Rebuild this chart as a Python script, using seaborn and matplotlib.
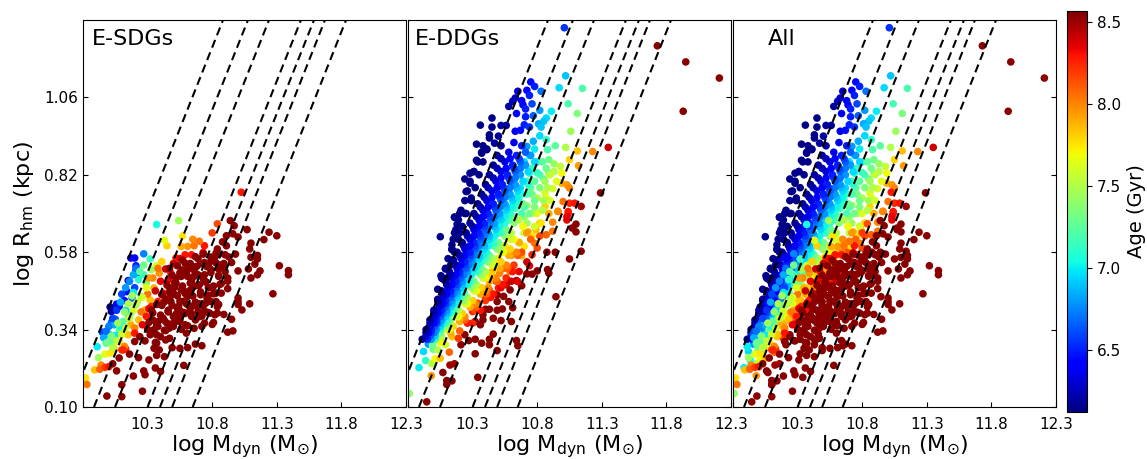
# Size-mass panels for E-SDGs, E-DDGs and all galaxies, coloured by age
import numpy as np
import pandas as pd
import matplotlib
matplotlib.use("Agg")
import matplotlib.pyplot as plt
import seaborn as sns

# age lines: mass where each dashed line crosses the bottom and the top of the panel
line_rhm = [0.10, 1.30]
line_mass_low = [9.694, 9.885, 10.048, 10.30, 10.396, 10.49, 10.649]
line_mass_high = [10.884, 11.077, 11.24, 11.487, 11.588, 11.673, 11.836]

age_min = 6.124
age_max = 8.57

x_ticks = [9.8, 10.3, 10.8, 11.3, 11.8, 12.3]
x_labels = ["", "10.3", "10.8", "11.3", "11.8", "12.3"]
y_ticks = [0.10, 0.34, 0.58, 0.82, 1.06]
y_labels = ["0.10", "0.34", "0.58", "0.82", "1.06"]
cbar_ticks = [6.5, 7.0, 7.5, 8.0, 8.5]
names = ["E-SDGs", "E-DDGs", "All"]

# E-SDGs, oldest galaxies (age 8.55)
sdg_old_mass = [9.985,10.10,10.26,10.10,10.19,10.06,10.27,10.28,10.36,10.40,10.58,10.31,10.23,10.08,10.16,10.03,10.37,10.43,
    10.35,10.39,10.49,10.55,10.61,10.67,10.72,10.20,10.24,10.28,10.32,10.37,10.37,10.44,10.47,10.30,10.38,10.44,10.50,10.56,
    10.60,10.66,10.72,10.81,10.80,10.92,10.96,10.95,10.89,10.84,10.78,10.74,11.03,11.09,11.00,11.00,11.00,11.27,10.92,10.87,
    10.81,10.83,10.84,11.10,11.15,11.17,11.08,11.00,11.32,11.39,11.39,11.15,11.15,11.13,11.10,11.09,11.10,11.20,11.24,11.30,
    11.07,11.00,10.96,10.91,10.97,10.94,10.98,10.95,10.90,10.83,10.82,10.92,10.92,10.90,10.85,10.79,10.74,10.75,10.70,10.66,
    10.60,10.68,10.61,10.56,10.52,10.56,10.61,10.66,10.71,10.75,10.69,10.64,10.59,10.53,10.48,10.50,10.46,10.42,10.38,10.34,
    10.55,10.59,10.47,10.51,10.58,10.63,10.70,10.76,10.44,10.48,10.54,10.58,10.63,10.67,10.72,10.77,10.41,10.46,10.52,10.56,
    10.64,10.69,10.74,10.79,10.84,10.88,10.86,10.91,10.35,10.40,10.45,10.50,10.55,10.60,10.66,10.36,10.33,10.43,10.47,10.52,
    10.57,10.63,10.69,10.76,10.80,10.85,10.89,10.93,10.86,10.80,10.73,10.66,10.62,10.57,10.52,10.47,
    10.31,10.37,10.43,10.49,10.55,10.61,10.67,10.74,10.34,10.40,10.46,10.52,10.58,10.64,10.70,10.76,10.82,
    10.37,10.43,10.49,10.55,10.61,10.67,10.73,10.79,10.85,10.41,10.47,10.53,10.59,10.65,10.71,10.77,10.83,
    10.45,10.51,10.57,10.63,10.69,10.75,10.81,10.87,10.49,10.55,10.61,10.67,10.73,10.79,10.85,
    10.53,10.59,10.65,10.71,10.77,10.83,10.89,10.67,10.73,10.79,10.85]
sdg_old_rhm = [0.134,0.132,0.149,0.169,0.196,0.212,0.212,0.200,0.221,0.210,0.229,0.246,0.253,0.252,0.264,0.234,0.260,0.256,
    0.282,0.277,0.284,0.282,0.284,0.295,0.290,0.303,0.318,0.305,0.324,0.298,0.324,0.308,0.313,0.341,0.350,0.337,0.350,0.341,
    0.329,0.344,0.350,0.362,0.356,0.332,0.336,0.372,0.387,0.391,0.391,0.396,0.401,0.420,0.427,0.418,0.438,0.451,0.467,0.453,
    0.451,0.427,0.411,0.500,0.510,0.522,0.528,0.522,0.538,0.523,0.510,0.570,0.559,0.543,0.564,0.590,0.608,0.619,0.642,0.631,
    0.650,0.627,0.637,0.631,0.662,0.678,0.574,0.548,0.572,0.577,0.565,0.500,0.490,0.520,0.505,0.526,0.510,0.489,0.479,0.505,
    0.515,0.536,0.526,0.505,0.484,0.463,0.443,0.474,0.448,0.422,0.396,0.381,0.390,0.406,0.427,0.453,0.396,0.375,0.365,0.370,
    0.375,0.355,0.470,0.472,0.460,0.462,0.420,0.438,0.435,0.445,0.412,0.428,0.405,0.415,0.382,0.470,0.415,0.400,0.388,0.395,
    0.490,0.510,0.548,0.552,0.590,0.612,0.540,0.600,0.340,0.318,0.360,0.380,0.398,0.420,0.415,0.300,0.400,0.338,0.345,0.366,
    0.525,0.545,0.560,0.535,0.560,0.528,0.545,0.565,0.480,0.470,0.498,0.525,0.540,0.555,0.500,0.530,
    0.362,0.355,0.368,0.358,0.365,0.352,0.370,0.360,0.392,0.385,0.395,0.384,0.393,0.388,0.380,0.394,0.386,
    0.418,0.426,0.415,0.428,0.418,0.425,0.413,0.427,0.418,0.448,0.456,0.445,0.452,0.444,0.457,0.446,0.453,
    0.478,0.486,0.475,0.484,0.477,0.487,0.475,0.483,0.508,0.516,0.505,0.514,0.506,0.517,0.508,
    0.538,0.546,0.535,0.544,0.537,0.547,0.536,0.566,0.574,0.565,0.573]

# E-SDGs, younger galaxies
sdg_mass = [11.025,10.84,10.80,10.74,10.65,10.70,10.61,10.66,10.56,10.57,10.45,10.43,10.54,10.37,10.27,10.32,10.17,10.20,10.21,
    10.21,10.23,10.15,10.14,10.20,10.18,10.12,10.08,10.06,10.01,10.02,10.14,10.02,10.05,10.04,9.95,10.00,9.96,9.91,9.92,9.89,
    9.82,9.83,9.94,9.93,9.97,10.00,10.10,10.13,
    9.98,10.01,10.03,10.08,10.11,10.15,10.17,10.21,10.25,10.29,10.33,10.37,10.05,10.09,10.13,10.19,10.23,10.27,
    9.97,10.01,10.04,10.08,10.15,10.17,10.23,10.28,10.32,10.35,10.39,10.41,10.12,10.20,10.25,10.30,10.34,10.38,
    10.11,10.20,10.29,10.33,10.38,10.42,10.46,10.48,10.52,10.59,10.64,10.73,10.26,10.31,10.36,10.40,10.44,10.50,10.55,
    10.16,10.19,10.21,10.10,10.13,10.06,10.09,10.03,10.00,9.98,10.27,10.24,10.18,10.15,10.12,10.07,10.02,9.99,
    10.31,10.29,10.26,10.22,10.19,10.16,10.13,10.10,10.06,10.03]
sdg_rhm = [0.766,0.668,0.640,0.600,0.620,0.614,0.598,0.600,0.598,0.630,0.600,0.617,0.678,0.666,0.575,0.559,0.562,0.562,0.538,
    0.524,0.505,0.492,0.458,0.470,0.438,0.430,0.412,0.419,0.410,0.396,0.393,0.362,0.372,0.355,0.332,0.326,0.315,0.287,0.253,0.215,
    0.190,0.170,0.230,0.217,0.223,0.225,0.277,0.280,
    0.298,0.303,0.308,0.339,0.365,0.375,0.391,0.417,0.443,0.484,0.526,0.538,0.322,0.350,0.400,0.455,0.495,0.510,
    0.264,0.267,0.282,0.303,0.324,0.355,0.370,0.401,0.432,0.469,0.515,0.551,0.288,0.345,0.395,0.450,0.500,0.530,
    0.277,0.329,0.381,0.412,0.427,0.453,0.495,0.515,0.562,0.572,0.572,0.579,0.355,0.405,0.460,0.490,0.528,0.545,0.560,
    0.490,0.510,0.530,0.450,0.470,0.400,0.425,0.375,0.350,0.335,0.540,0.520,0.445,0.420,0.395,0.360,0.320,0.300,
    0.500,0.470,0.440,0.425,0.400,0.375,0.345,0.325,0.305,0.285]
sdg_age = [8.30,8.15,8.20,8.30,8.00,8.05,7.95,8.05,7.90,7.75,7.80,7.65,7.45,7.05,6.75,7.15,6.30,6.40,6.50,
    6.55,6.70,6.25,6.40,6.60,6.70,6.45,6.45,6.40,6.20,6.20,6.85,6.65,6.65,6.85,6.60,6.95,6.85,7.00,7.45,7.85,
    7.75,8.05,8.00,8.10,8.20,8.30,8.20,8.25,
    7.20,7.25,7.15,7.30,7.25,7.30,7.35,7.40,7.30,7.35,7.45,7.60,7.00,7.05,6.95,7.00,7.10,7.15,
    7.65,7.75,7.80,7.75,7.85,7.90,7.85,7.90,7.85,7.90,7.95,7.80,8.00,8.00,8.05,8.05,8.00,8.05,
    8.25,8.30,8.30,8.25,8.30,8.35,8.35,8.30,8.25,8.30,8.30,8.35,8.35,8.35,8.40,8.35,8.40,8.40,8.35,
    6.75,6.85,6.70,6.60,6.80,6.55,6.85,6.60,6.75,6.70,7.30,7.25,7.45,7.50,7.40,7.45,7.35,7.30,
    7.95,7.65,7.60,7.55,7.60,7.55,7.55,7.60,7.55,7.50]

# E-DDGs, scattered galaxies read one at a time
ddg_mass = [11.73,11.95,12.21,11.93,11.01,11.02,10.97,11.15,11.04,11.11,11.06,11.02,11.11,11.23,11.35,11.05,11.12,11.29,
    10.75,10.78,10.72,10.65,10.83,10.74,10.63,10.61,10.68,10.69,10.76,10.58,10.71,10.64,10.82,10.91,10.77,10.71,10.87,10.85,
    10.45,10.36,10.45,10.52,10.56,10.70,10.74,10.81,10.83,10.63,10.67,
    10.33,10.38,10.47,10.33,10.28,10.31,10.24,10.28,10.25,10.29,10.16,10.20,10.24,10.43,10.43,10.50,10.37,10.41,
    10.05,10.16,10.18,10.16,10.20,10.14,10.14,10.15,10.09,10.055,10.07,10.03,10.10,10.03,10.11,10.09,10.05,
    9.944,9.99,9.995,10.03,9.957,9.92,9.98,9.936,9.885,9.983,10.01,10.05,9.995,10.03,10.09,10.05,10.14,10.12,9.98,9.81,
    9.945,10.07,10.10,10.14,10.10,10.125,10.16,10.34,10.32,10.21,10.24,10.27,10.32,10.37,10.43,10.43,10.46,10.49,10.64,10.65,
    10.52,10.60,10.46,10.36,10.32,10.38,10.38,10.40,10.43,10.49,10.53,10.61,10.49,10.58,10.49,10.54,10.59,10.68,10.64,10.945,
    10.88,10.89,10.80,10.76,10.72,11.05,11.14,10.875,10.94,11.10,11.07,11.10,
    10.20,10.20,10.19,10.34,10.30,10.32,10.36,10.40,10.43,10.50,10.56,10.65,10.47,10.51,10.59,10.68,10.70,10.74,10.78,10.80,
    10.76,10.73,10.79,10.82,10.92,10.92,10.87,10.96,11.04,11.03,
    11.00,10.96,11.05,11.09,11.14,11.04,11.03,10.99,11.03,11.05,10.99,10.98,10.93,10.89,10.88,10.94,10.87,10.82,10.77,10.72,
    10.93,10.89,10.85,10.82,10.80,10.74,10.78,10.72,10.67,10.92,10.86,10.87,10.76,10.80,10.72,10.86,10.89,10.80,10.76,10.70,10.63]
ddg_rhm = [1.22,1.17,1.12,1.017,1.276,1.127,1.09,1.088,1.04,1.01,0.955,0.905,0.894,0.892,0.905,0.867,0.848,0.764,
    1.108,1.094,1.082,1.079,1.079,1.066,1.058,1.048,1.05,1.037,1.04,1.032,1.024,1.01,1.02,1.017,1.003,1.0,0.996,0.986,
    0.996,0.974,0.968,0.973,0.973,0.975,0.968,0.978,0.968,0.955,0.958,
    0.915,0.91,0.918,0.865,0.825,0.83,0.807,0.794,0.768,0.748,0.689,0.70,0.70,0.944,0.934,0.94,0.887,0.898,
    0.628,0.688,0.667,0.64,0.64,0.603,0.588,0.557,0.528,0.507,0.497,0.465,0.48,0.434,0.453,0.432,0.41,
    0.331,0.363,0.327,0.347,0.295,0.272,0.30,0.244,0.222,0.234,0.249,0.251,0.279,0.277,0.293,0.306,0.318,0.27,0.197,0.142,
    0.116,0.207,0.182,0.181,0.17,0.23,0.234,0.192,0.265,0.293,0.324,0.306,0.31,0.298,0.293,0.31,0.326,0.275,0.306,0.29,
    0.368,0.365,0.375,0.355,0.365,0.37,0.386,0.403,0.403,0.40,0.404,0.408,0.427,0.427,0.448,0.443,0.463,0.476,0.492,0.442,
    0.526,0.515,0.522,0.512,0.513,0.559,0.583,0.58,0.58,0.667,0.655,0.643,
    0.365,0.336,0.313,0.422,0.396,0.40,0.463,0.438,0.463,0.469,0.479,0.489,0.50,0.515,0.52,0.569,0.598,0.538,0.608,0.593,
    0.572,0.643,0.65,0.67,0.673,0.645,0.634,0.707,0.70,0.68,
    0.737,0.706,0.732,0.732,0.722,0.706,0.69,0.794,0.789,0.779,0.825,0.846,0.854,0.867,0.898,0.91,0.929,0.941,0.924,0.908,
    0.83,0.825,0.807,0.82,0.827,0.825,0.80,0.80,0.779,0.777,0.763,0.748,0.76,0.748,0.725,0.722,0.70,0.70,0.70,0.69,0.716]
ddg_age = [8.55,8.55,8.55,8.55,6.55,6.90,6.95,7.20,7.20,7.35,7.45,7.50,7.85,8.00,8.40,7.80,7.95,8.55,
    6.45,6.50,6.40,6.30,6.70,6.50,6.25,6.25,6.35,6.40,6.60,6.20,6.50,6.40,6.80,7.00,6.65,6.50,6.95,6.90,
    6.15,6.15,6.15,6.20,6.20,6.50,6.55,6.85,6.90,6.35,6.45,
    6.15,6.15,6.20,6.15,6.15,6.15,6.15,6.15,6.15,6.15,6.15,6.15,6.15,6.15,6.15,6.20,6.15,6.15,
    6.15,6.15,6.15,6.15,6.15,6.15,6.15,6.15,6.15,6.15,6.15,6.15,6.15,6.15,6.15,6.15,6.20,
    6.50,6.60,6.80,6.90,6.80,6.95,6.90,7.10,7.00,7.50,7.70,7.85,7.30,7.50,7.60,7.30,7.85,8.10,7.95,7.40,
    8.55,8.55,8.55,8.55,8.55,8.50,8.50,8.55,8.55,8.55,8.55,8.55,8.55,8.55,8.55,8.55,8.55,8.55,8.55,8.55,
    8.55,8.55,8.55,8.55,8.55,8.55,8.55,8.55,8.55,8.55,8.55,8.55,8.55,8.55,8.55,8.55,8.55,8.55,8.55,8.55,
    8.55,8.55,8.55,8.55,8.55,8.55,8.55,8.55,8.55,8.55,8.55,8.55,
    7.90,8.10,8.20,8.15,8.25,8.15,7.95,8.30,8.10,8.30,8.40,8.35,8.05,8.00,8.05,7.90,7.75,8.35,8.05,8.15,
    8.25,7.90,7.85,7.85,8.00,8.05,8.10,8.00,8.30,8.35,
    8.05,8.00,8.25,8.30,8.50,8.30,8.35,7.90,7.95,8.00,7.70,7.55,7.45,7.30,7.20,7.25,7.10,6.95,6.85,6.80,
    7.50,7.45,7.30,7.20,7.15,7.05,7.25,7.15,6.95,7.60,7.60,7.65,7.30,7.50,7.40,7.80,7.90,7.65,7.55,7.40,7.10]

# E-DDGs, the green and yellow patch and the orange and red edge
ddg_patch_mass = [10.72,10.75,10.78,10.82,10.85,10.88,10.90,10.84,10.78,10.74,10.70,10.95,10.90,10.86,10.76,10.80,10.84,10.87,
    10.74,10.78,10.70,10.66,10.68,10.72,10.78,10.83,10.70,10.76,
    10.45,10.50,10.55,10.42,10.48,10.54,10.60,10.66,10.72,10.56,10.62,10.68,10.75,10.82,10.40,10.46,10.52,10.60,10.66,10.72,
    10.36,10.30]
ddg_patch_rhm = [0.76,0.78,0.74,0.78,0.74,0.78,0.74,0.71,0.72,0.70,0.72,0.80,0.82,0.80,0.84,0.86,0.86,0.84,
    0.88,0.90,0.86,0.74,0.70,0.67,0.66,0.67,0.64,0.63,
    0.52,0.56,0.60,0.47,0.49,0.53,0.57,0.61,0.64,0.50,0.54,0.58,0.62,0.63,0.43,0.45,0.47,0.49,0.52,0.55,
    0.40,0.36]
ddg_patch_age = [7.20,7.25,7.30,7.35,7.45,7.50,7.60,7.50,7.35,7.30,7.20,7.65,7.55,7.45,7.15,7.10,7.25,7.30,
    7.00,7.00,6.95,7.05,7.20,7.45,7.60,7.75,7.55,7.75,
    7.85,7.75,7.75,8.00,8.10,8.05,7.95,7.90,7.95,8.25,8.20,8.15,8.10,8.15,8.20,8.30,8.35,8.40,8.35,8.40,
    8.30,8.25]

# E-DDGs, main sequence read as runs of one colour, oldest runs first
band_ages = [8.3, 8.1, 8.0, 7.9, 7.8, 7.7, 7.6, 7.5, 7.4, 7.3, 7.2, 7.1, 7.02, 6.95, 6.88, 6.8, 6.72, 6.65, 6.58, 6.5, 6.42, 6.35,
    6.25, 6.2, 6.15, 6.15]
band_rhm = [
    [0.36,0.40,0.44,0.48,0.52],
    [0.37,0.41,0.45,0.49,0.53,0.57],
    [0.38,0.42,0.46,0.50,0.54,0.58],
    [0.33,0.37,0.41,0.45,0.49,0.53,0.57,0.61],
    [0.35,0.39,0.43,0.47,0.51,0.55,0.59],
    [0.30,0.34,0.38,0.42,0.46,0.50,0.54,0.58,0.62,0.66],
    [0.34,0.38,0.42,0.46,0.50,0.54,0.58,0.62],
    [0.32,0.36,0.40,0.44,0.48,0.52,0.56,0.60,0.64,0.68],
    [0.35,0.39,0.43,0.47,0.51,0.55,0.59,0.63,0.67],
    [0.29,0.33,0.37,0.41,0.45,0.49,0.53,0.57,0.61,0.65,0.69,0.73],
    [0.36,0.40,0.44,0.48,0.52,0.56,0.60,0.64,0.68,0.72],
    [0.31,0.34,0.37,0.40,0.43,0.46,0.49,0.52,0.55,0.58,0.61,0.64,0.67,0.70,0.73,0.76,0.79],
    [0.36,0.39,0.42,0.45,0.48,0.51,0.54,0.57,0.60,0.63,0.66,0.69,0.72,0.75],
    [0.32,0.35,0.38,0.41,0.44,0.47,0.50,0.53,0.56,0.59,0.62,0.65,0.68,0.71,0.74,0.77,0.80,0.83,0.86],
    [0.33,0.36,0.39,0.42,0.45,0.48,0.51,0.54,0.57,0.60,0.63,0.66,0.69,0.72,0.75,0.78],
    [0.31,0.34,0.37,0.40,0.43,0.46,0.49,0.52,0.55,0.58,0.61,0.64,0.67,0.70,0.73,0.76,0.79,0.82,0.85,0.88],
    [0.33,0.36,0.39,0.42,0.45,0.48,0.51,0.54,0.57,0.60,0.63,0.66,0.69,0.72,0.75,0.78,0.81,0.84],
    [0.32,0.35,0.38,0.41,0.44,0.47,0.50,0.53,0.56,0.59,0.62,0.65,0.68,0.71,0.74,0.77,0.80,0.83,0.86,0.89],
    [0.33,0.36,0.39,0.42,0.45,0.48,0.51,0.54,0.57,0.60,0.63,0.66,0.69,0.72,0.75,0.78,0.81,0.84,0.87],
    [0.31,0.34,0.37,0.40,0.43,0.46,0.49,0.52,0.55,0.58,0.61,0.64,0.67,0.70,0.73,0.76,0.79,0.82,0.85,0.88,0.91],
    [0.33,0.36,0.39,0.42,0.45,0.48,0.51,0.54,0.57,0.60,0.63,0.66,0.69,0.72,0.75,0.78,0.81,0.84,0.87],
    [0.32,0.35,0.38,0.41,0.44,0.47,0.50,0.53,0.56,0.59,0.62,0.65,0.68,0.71,0.74,0.77,0.80,0.83,0.86,0.89,0.92],
    [0.33,0.36,0.39,0.42,0.45,0.48,0.51,0.54,0.57,0.60,0.63,0.66,0.69,0.72,0.75,0.78,0.81,0.84,0.87],
    [0.31,0.34,0.37,0.40,0.43,0.46,0.49,0.52,0.55,0.58,0.61,0.64,0.67,0.70,0.73,0.76,0.79,0.82,0.85,0.88,0.91],
    [0.50,0.54,0.58,0.62,0.66,0.70,0.74,0.78,0.82,0.86,0.90],
    [0.50,0.53,0.56,0.59,0.62,0.65,0.68,0.71,0.74,0.77,0.80,0.83,0.86,0.89],
]
band_mass = [
    [10.26,10.35,10.44,10.53,10.61],
    [10.24,10.33,10.41,10.49,10.57,10.65],
    [10.24,10.32,10.40,10.48,10.56,10.64],
    [10.13,10.20,10.28,10.36,10.43,10.51,10.58,10.66],
    [10.15,10.22,10.30,10.37,10.44,10.52,10.59],
    [10.05,10.12,10.19,10.26,10.33,10.40,10.47,10.54,10.62,10.69],
    [10.10,10.17,10.24,10.31,10.38,10.45,10.52,10.59],
    [10.06,10.13,10.19,10.26,10.33,10.40,10.46,10.53,10.60,10.66],
    [10.10,10.16,10.23,10.29,10.36,10.42,10.49,10.55,10.62],
    [9.99,10.05,10.12,10.18,10.24,10.31,10.37,10.43,10.50,10.56,10.62,10.69],
    [10.09,10.15,10.21,10.27,10.34,10.40,10.46,10.52,10.58,10.64],
    [10.01,10.05,10.10,10.14,10.19,10.23,10.28,10.32,10.37,10.41,10.46,10.50,10.55,10.59,10.64,10.68,10.73],
    [10.07,10.12,10.16,10.20,10.25,10.29,10.34,10.38,10.42,10.47,10.51,10.55,10.60,10.64],
    [10.01,10.05,10.09,10.13,10.18,10.22,10.26,10.31,10.35,10.39,10.43,10.48,10.52,10.56,10.61,10.65,10.69,10.73,10.78],
    [10.01,10.05,10.10,10.14,10.18,10.22,10.26,10.30,10.35,10.39,10.43,10.47,10.51,10.56,10.60,10.64],
    [9.98,10.02,10.06,10.10,10.14,10.18,10.22,10.26,10.30,10.34,10.38,10.42,10.47,10.51,10.55,10.59,10.63,10.67,10.71,10.75],
    [10.00,10.03,10.07,10.11,10.15,10.19,10.23,10.27,10.31,10.35,10.39,10.43,10.47,10.51,10.55,10.59,10.63,10.67],
    [9.97,10.01,10.05,10.09,10.13,10.17,10.21,10.25,10.28,10.32,10.36,10.40,10.44,10.48,10.52,10.55,10.59,10.63,10.67,10.71],
    [9.98,10.02,10.05,10.09,10.13,10.17,10.20,10.24,10.28,10.32,10.36,10.39,10.43,10.47,10.51,10.54,10.58,10.62,10.66],
    [9.95,9.98,10.02,10.06,10.09,10.13,10.17,10.20,10.24,10.28,10.31,10.35,10.39,10.42,10.46,10.50,10.53,10.57,10.61,10.64,10.68],
    [9.96,10.00,10.03,10.07,10.10,10.14,10.17,10.21,10.24,10.28,10.31,10.35,10.38,10.42,10.45,10.49,10.52,10.56,10.59],
    [9.94,9.97,10.01,10.04,10.07,10.11,10.14,10.18,10.21,10.24,10.28,10.31,10.35,10.38,10.41,10.45,10.48,10.52,10.55,10.58,10.62],
    [9.94,9.97,10.00,10.04,10.07,10.10,10.13,10.17,10.20,10.23,10.26,10.30,10.33,10.36,10.39,10.42,10.46,10.49,10.52],
    [9.91,9.94,9.97,10.00,10.03,10.06,10.09,10.12,10.15,10.18,10.22,10.25,10.28,10.31,10.34,10.37,10.40,10.43,10.46,10.49,10.52],
    [10.10,10.13,10.16,10.19,10.22,10.25,10.29,10.32,10.35,10.38,10.41],
    [10.06,10.09,10.11,10.14,10.15,10.17,10.19,10.21,10.24,10.26,10.28,10.31,10.34,10.37],
]

# put the tables together, old galaxies last so they sit on top
sdg = pd.DataFrame({
    "mass": sdg_mass + sdg_old_mass,
    "rhm": sdg_rhm + sdg_old_rhm,
    "age": sdg_age + [8.55] * len(sdg_old_mass),
})
ddg_rows = [pd.DataFrame({"mass": ddg_mass, "rhm": ddg_rhm, "age": ddg_age}),
            pd.DataFrame({"mass": ddg_patch_mass, "rhm": ddg_patch_rhm, "age": ddg_patch_age})]
for age, m, r in zip(band_ages, band_mass, band_rhm):
    ddg_rows.append(pd.DataFrame({"mass": m, "rhm": r, "age": age}))
ddg = pd.concat(ddg_rows, ignore_index=True)
both = pd.concat([ddg, sdg], ignore_index=True)

W, H = 1147, 459
fig = plt.figure(figsize=(W / 100, H / 100), dpi=100)
jet = plt.get_cmap("jet")

lefts = [83, 408, 733]
for left, name, df, tx in zip(lefts, names, [sdg, ddg, both], [0.028, 0.022, 0.108]):
    ax = fig.add_axes([left / W, (H - 407) / H, 323 / W, 387 / H])
    sns.scatterplot(data=df, x="mass", y="rhm", hue="age", palette=jet, hue_norm=(age_min, age_max),
                    s=30, linewidth=0, legend=False, ax=ax)
    for lo, hi in zip(line_mass_low, line_mass_high):
        sns.lineplot(x=[lo, hi], y=line_rhm, color="black", linewidth=1.5, ax=ax)
        ax.lines[-1].set_linestyle((0, (4.0, 2.4)))
    ax.set_xlim(9.8, 12.3)
    ax.set_ylim(0.10, 1.30)
    ax.set_xticks(x_ticks)
    ax.set_xticklabels(x_labels, fontsize=11)
    ax.set_yticks(y_ticks)
    ax.tick_params(axis="both", direction="in", length=3.5)
    ax.tick_params(axis="x", pad=7)
    ax.tick_params(axis="y", right=True)
    if left == lefts[0]:
        ax.set_yticklabels(y_labels, fontsize=11)
        ax.set_ylabel(r"log R$_{\rm hm}$ (kpc)", fontsize=16, labelpad=6)
    else:
        ax.set_yticklabels([])
        ax.set_ylabel("")
    ax.set_xlabel(r"log M$_{\rm dyn}$ (M$_{\odot}$)", fontsize=16, labelpad=1)
    ax.text(tx, 0.95, name, transform=ax.transAxes, fontsize=16, va="center")

cax = fig.add_axes([1067 / W, (H - 412) / H, 20 / W, 401 / H])
sm = plt.cm.ScalarMappable(cmap=jet, norm=plt.Normalize(age_min, age_max))
cbar = fig.colorbar(sm, cax=cax)
cbar.set_ticks(cbar_ticks)
cbar.ax.tick_params(labelsize=11)
cbar.set_label("Age (Gyr)", fontsize=14)

fig.savefig("out.png", dpi=100)
